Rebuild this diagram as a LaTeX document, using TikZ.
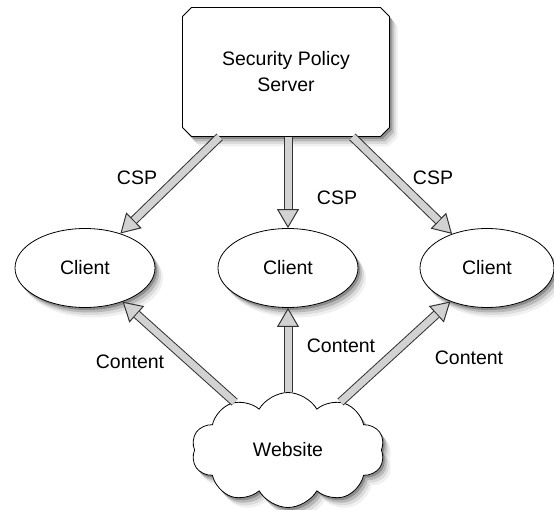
\documentclass[tikz,border=0pt]{standalone}
\usepackage{fontspec}
\setmainfont{Liberation Sans}
\usetikzlibrary{shapes.geometric,shapes.symbols,arrows.meta}

\definecolor{flowfill}{HTML}{D2D2D2}
\definecolor{flowline}{HTML}{333333}

\tikzset{
  shape base/.style={draw=black,fill=white,line width=0.8pt,inner sep=0pt,align=center,
    font=\fontsize{19.5}{26}\selectfont},
  % the bevelled outline is drawn on its own, the node only holds the text
  serverbox/.style={shape base,draw=none,fill=none,rectangle,
    minimum width=207pt,minimum height=129pt},
  clientbox/.style={shape base,ellipse,minimum width=140pt,minimum height=79pt},
  webcloud/.style={shape base,cloud,cloud puffs=10,cloud puff arc=120,aspect=1.7,
    minimum width=193pt,minimum height=115pt},
  % hollow block arrow: dark body with the head, light core on top
  flow/.style={draw=flowfill,line width=7pt,shorten >=19pt,
    preaction={draw=flowline,line width=9pt,shorten >=0pt,
      -{Triangle[length=19pt,width=22pt,line width=1pt,fill=flowfill]}}},
  lbl/.style={font=\fontsize{19.5}{23}\selectfont}
}

\begin{document}
\begin{tikzpicture}[x=1pt,y=1pt]
  \useasboundingbox (0,0) rectangle (554,-510);

  % soft shadows, widest and lightest first
  \foreach \sx/\sy/\tone in {8/-10/6,6/-7.5/14,4/-5/28,2/-2.5/45}{
    \begin{scope}[shift={(\sx,\sy)}]
      \fill[black!\tone] (191.5,-7.5) -- (380.5,-7.5) -- (389.5,-16.5) -- (389.5,-127.5)
        -- (380.5,-136.5) -- (191.5,-136.5) -- (182.5,-127.5) -- (182.5,-16.5) -- cycle;
      \fill[black!\tone] (85,-268) ellipse [x radius=70,y radius=39.5];
      \fill[black!\tone] (288,-268) ellipse [x radius=70,y radius=39.5];
      \fill[black!\tone] (487,-268) ellipse [x radius=67,y radius=39.5];
      \node[webcloud,draw=none,fill=black!\tone] at (288,-450) {};
    \end{scope}
  }

  % policy server on top, bevelled box
  \filldraw[fill=white,line width=0.8pt] (191.5,-7.5) -- (380.5,-7.5) -- (389.5,-16.5)
    -- (389.5,-127.5) -- (380.5,-136.5) -- (191.5,-136.5) -- (182.5,-127.5)
    -- (182.5,-16.5) -- cycle;
  \node[serverbox] (server) at (286,-72) {Security Policy\\Server};

  % the three clients
  \node[clientbox] (clientL) at (85,-268) {Client};
  \node[clientbox] (clientM) at (288,-268) {Client};
  \node[clientbox,minimum width=134pt] (clientR) at (487,-268) {Client};

  % content source
  \node[webcloud] (web) at (288,-450) {Website};

  % policy delivery
  \draw[flow] (server) -- (clientL);
  \draw[flow] (server.south -| clientM) -- (clientM);
  \draw[flow] (server) -- (clientR);
  \node[lbl] (cspL) at (137,-178) {CSP};
  \node[lbl] (cspM) at (337,-198) {CSP};
  \node[lbl] (cspR) at (433,-178) {CSP};

  % content delivery
  \draw[flow] (web) -- (clientL);
  \draw[flow] (web) -- (clientM);
  \draw[flow] (web) -- (clientR);
  \node[lbl] (contL) at (130,-362) {Content};
  \node[lbl] (contM) at (341,-346) {Content};
  \node[lbl] (contR) at (469,-358) {Content};
\end{tikzpicture}
\end{document}
